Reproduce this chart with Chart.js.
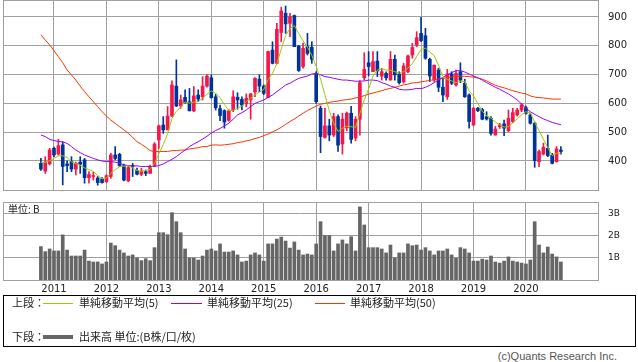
<!DOCTYPE html>
<html lang="ja">
<head>
<meta charset="utf-8">
<script src="https://cdn.jsdelivr.net/npm/chart.js@4.4.1/dist/chart.umd.min.js"></script>
<style>
body { margin: 0; background: #fff; }
#wrap { position: relative; width: 638px; height: 362px; overflow: hidden; font-family: "Noto Sans CJK JP", sans-serif; color: #222; }
canvas { position: absolute; left: 0; }
.t { position: absolute; white-space: nowrap; line-height: 1; font-size: 11px; }
.ln { position: absolute; height: 1px; }
#legend { position: absolute; left: 3px; top: 295px; width: 633px; height: 52px; border: 1px solid #000; box-sizing: border-box; }
</style>
</head>
<body>
<div id="wrap">
  <canvas id="priceChart" width="638" height="191" style="top:0"></canvas>
  <canvas id="volChart" width="638" height="100" style="top:195px"></canvas>
  <div class="t" style="left:8px;top:204px;font-size:10px">単位: B</div>
  <div id="legend"></div>
  <div class="t" style="left:12px;top:297px">上段：</div>
  <div class="ln" style="left:43px;top:303px;width:30px;background:#99cc00"></div>
  <div class="t" style="left:79px;top:297px">単純移動平均(5)</div>
  <div class="ln" style="left:171px;top:303px;width:31px;background:#9900ff"></div>
  <div class="t" style="left:207px;top:297px">単純移動平均(25)</div>
  <div class="ln" style="left:315px;top:303px;width:30px;background:#ff3300"></div>
  <div class="t" style="left:350px;top:297px">単純移動平均(50)</div>
  <div class="t" style="left:12px;top:331px">下段：</div>
  <div class="ln" style="left:43px;top:335px;width:30px;height:4px;background:#666"></div>
  <div class="t" style="left:79px;top:331px">出来高 単位:(B株/口/枚)</div>
  <div class="t" style="right:21px;top:351px;font-family:'Liberation Sans',sans-serif;color:#555">(c)Quants Research Inc.</div>
</div>
<script>
// 月足 2010/10 - 2020/09
const opens = [
  392,365,390,444,424,456,390,398,372,396,
  404,342,346,341,338,328,346,421,423,384,
  331,384,367,354,363,357,384,473,525,508,
  556,660,591,621,606,574,629,623,660,689,
  623,582,575,541,577,621,614,598,612,640,
  684,660,621,785,739,846,913,878,905,799,
  728,797,795,704,583,482,522,490,554,459,
  515,566,480,545,689,741,710,747,695,704,
  681,753,702,675,710,768,803,843,835,753,
  681,716,656,623,702,664,710,670,629,525,
  583,579,554,548,490,519,529,505,537,560,
  577,585,560,531,398,424,444,421,398,438
];
const highs = [
  409,415,444,448,475,467,401,415,396,415,
  409,363,361,346,342,352,427,450,427,389,
  384,392,375,375,369,386,464,525,554,589,
  678,751,629,647,652,658,647,693,699,699,
  632,594,578,578,644,637,623,633,635,690,
  699,664,782,814,878,934,938,913,907,801,
  809,843,814,710,591,583,545,566,560,566,
  570,590,554,679,776,780,780,780,722,710,
  780,768,710,739,768,809,849,899,861,757,
  733,722,687,718,710,716,741,684,633,586,
  586,583,571,554,520,531,542,577,583,583,
  600,591,566,535,438,462,490,427,450,450
];
const lows = [
  367,357,386,415,421,317,363,363,352,357,
  323,323,334,316,323,325,340,404,381,331,
  328,346,352,349,349,357,381,444,496,508,
  554,589,583,600,574,571,606,612,656,618,
  577,540,514,538,571,580,577,588,545,623,
  641,630,620,737,737,814,843,832,797,711,
  722,768,739,600,429,479,470,485,433,424,
  505,462,470,490,681,695,710,693,681,681,
  681,681,667,670,707,757,797,814,753,676,
  676,641,606,614,665,660,672,621,514,522,
  571,543,542,490,490,513,488,502,533,556,
  571,563,528,378,380,421,415,390,396,424
];
const closes = [
  372,396,438,421,453,381,384,372,392,389,
  342,353,349,325,325,349,421,409,384,334,
  377,381,354,365,357,381,459,522,508,556,
  664,591,612,603,574,626,615,660,695,620,
  585,558,535,574,623,612,594,618,633,687,
  660,635,780,739,857,921,876,901,797,714,
  791,774,753,606,485,522,490,554,455,545,
  566,475,545,672,718,728,745,713,710,689,
  753,699,672,730,765,794,828,818,757,695,
  733,656,629,702,670,704,681,623,537,583,
  575,545,546,496,511,525,514,548,568,577,
  595,566,531,401,433,448,419,392,442,433
];
const ma5 = [
  395,395,401,409,418,418,412,397,391,385,
  376,370,364,349,338,341,357,370,380,382,
  383,376,367,364,367,371,392,425,457,495,
  548,572,588,605,601,604,606,618,632,643,
  635,620,596,575,576,583,591,606,618,630,
  639,648,682,705,738,788,836,860,870,843,
  817,795,767,728,685,630,575,531,503,513,
  521,519,517,565,612,650,695,716,720,716,
  715,710,705,710,723,738,763,787,792,778,
  766,732,694,683,678,672,677,676,643,626,
  600,573,557,549,535,525,518,519,533,546,
  560,571,567,534,505,476,446,419,427,427
];
const ma25 = [
  490,485,475,471,468,466,461,450,438,429,
  421,415,409,404,400,398,398,396,392,387,
  384,383,383,381,381,381,381,384,390,398,
  406,415,427,438,450,459,467,476,486,497,
  506,513,522,531,545,560,568,577,589,600,
  606,612,621,629,641,652,664,670,679,687,
  691,695,702,704,699,693,691,687,684,681,
  681,679,677,677,678,681,681,679,672,667,
  660,656,649,647,647,649,652,651,656,663,
  672,681,691,699,707,713,714,709,702,695,
  689,681,672,664,656,649,641,633,623,612,
  598,583,571,562,554,546,540,534,530,526
];
const ma50 = [
  838,820,803,783,762,741,716,699,681,660,
  641,623,606,589,571,556,542,531,519,508,
  496,482,467,458,448,436,433,433,433,433,
  436,436,438,438,442,444,446,450,450,455,
  456,455,456,458,460,464,466,470,473,478,
  482,488,494,501,508,517,527,537,546,556,
  566,575,583,591,597,600,604,606,608,611,
  613,615,619,622,627,632,636,640,644,649,
  652,656,660,664,667,671,672,675,677,680,
  682,685,687,689,692,693,694,694,693,691,
  688,684,678,670,663,658,654,649,644,640,
  636,633,626,622,620,619,617,615,615,615
];
const volume = [
  1.52,1.29,1.41,1.32,1.32,2.05,1.36,1.09,1.09,1.09,
  1.36,0.86,0.82,0.82,0.73,0.82,1.68,1.56,1.36,1.23,
  1.09,1.14,1.00,0.88,0.97,0.88,1.47,2.15,2.15,2.06,
  3.06,2.65,2.15,1.41,1.00,1.00,0.91,1.09,1.36,1.41,
  1.32,1.64,1.27,1.27,1.32,1.14,0.82,0.86,1.14,1.23,
  1.14,0.86,1.64,1.64,1.86,1.95,1.77,1.45,1.73,1.36,
  1.14,1.18,1.14,1.64,2.65,2.02,2.02,1.32,1.64,1.82,
  1.64,1.97,1.32,3.32,2.50,1.47,1.47,1.47,1.41,1.23,
  1.59,1.00,1.23,1.23,1.64,1.56,1.59,1.36,1.47,1.32,
  1.14,1.32,1.32,1.41,1.14,1.00,1.47,1.41,1.23,0.86,
  0.86,0.95,0.91,1.09,0.82,0.77,0.86,1.05,0.86,0.82,
  0.77,0.73,0.91,2.65,1.59,1.23,1.50,1.18,1.05,0.82
];
const priceTicks = [400, 500, 600, 700, 800, 900];
const volumeTicks = [1, 2, 3];

// ラベル (2010/10 から)
const months = opens.map((_, i) => {
  const m = 9 + i;
  return (2010 + Math.floor(m / 12)) + '/' + String(m % 12 + 1).padStart(2, '0');
});
const yearIdx = months.map((m, i) => m.endsWith('/01') ? i : -1).filter(i => i >= 0);

const UP = '#f5174b';
const DOWN = '#003399';
const GRID = '#a0a0a0';
const candleColors = opens.map((o, i) => closes[i] >= o ? UP : DOWN);

const frame = {
  id: 'frame',
  afterDraw(chart) {
    const a = chart.chartArea;
    const c = chart.ctx;
    c.save();
    c.strokeStyle = GRID;
    c.lineWidth = 1;
    c.strokeRect(Math.round(a.left) + 0.5, Math.round(a.top) + 0.5, Math.round(a.right - a.left), Math.round(a.bottom - a.top));
    c.restore();
  }
};

const xRange = { min: -8.67, max: 127.49 };
const tickFont = { family: 'DejaVu Sans', size: 10 };

function xScale(showLabels) {
  return {
    type: 'linear',
    min: xRange.min,
    max: xRange.max,
    offset: false,
    border: { display: false },
    grid: { color: GRID, drawTicks: false, offset: false },
    afterBuildTicks: s => { s.ticks = yearIdx.map(v => ({ value: v })); },
    afterFit: s => {
      s.height = showLabels ? 15 : 0;
      s.paddingLeft = 0;
      s.paddingRight = 0;
    },
    ticks: {
      display: showLabels,
      autoSkip: false,
      maxRotation: 0,
      padding: 3,
      color: '#222',
      font: tickFont,
      callback: v => months[v] ? months[v].slice(0, 4) : ''
    }
  };
}

function yScale(min, max, ticks, font, fmt) {
  return {
    position: 'right',
    min: min,
    max: max,
    border: { display: false },
    grid: { color: GRID, drawTicks: false },
    afterBuildTicks: s => { s.ticks = ticks.map(v => ({ value: v })); },
    afterFit: s => {
      s.width = 40;
      s.paddingTop = 0;
      s.paddingBottom = 0;
    },
    ticks: { padding: 10, color: '#222', font: font, callback: fmt }
  };
}

const lineSet = (data, color) => ({
  type: 'line',
  data: data.map((v, i) => ({ x: i, y: v })),
  borderColor: color,
  borderWidth: 1,
  pointRadius: 0,
  tension: 0,
  order: 0
});

new Chart(document.getElementById('priceChart'), {
  type: 'bar',
  data: {
    datasets: [
      lineSet(ma5, '#99cc00'),
      lineSet(ma25, '#9900ff'),
      lineSet(ma50, '#ff3300'),
      {
        data: opens.map((o, i) => ({ x: i, y: [o, closes[i]] })),
        backgroundColor: candleColors,
        barThickness: 3,
        minBarLength: 1,
        grouped: false,
        order: 2
      },
      {
        data: lows.map((l, i) => ({ x: i, y: [l, highs[i]] })),
        backgroundColor: candleColors,
        barThickness: 1,
        grouped: false,
        order: 3
      }
    ]
  },
  options: {
    responsive: false,
    animation: false,
    layout: { padding: { left: 3, right: 0, top: 0, bottom: 1 } },
    plugins: { legend: { display: false }, tooltip: { enabled: false } },
    scales: {
      x: xScale(false),
      y: yScale(299.3, 959, priceTicks, tickFont, v => v)
    }
  },
  plugins: [frame]
});

new Chart(document.getElementById('volChart'), {
  type: 'bar',
  data: {
    datasets: [{
      data: volume.map((v, i) => ({ x: i, y: v })),
      backgroundColor: '#666666',
      barThickness: 3,
      grouped: false
    }]
  },
  options: {
    responsive: false,
    animation: false,
    layout: { padding: { left: 3, right: 0, top: 7, bottom: 0 } },
    plugins: { legend: { display: false }, tooltip: { enabled: false } },
    scales: {
      x: xScale(true),
      y: yScale(0, 3.545, volumeTicks, { family: 'DejaVu Sans', size: 9 }, v => v + 'B')
    }
  },
  plugins: [frame]
});
</script>
</body>
</html>
